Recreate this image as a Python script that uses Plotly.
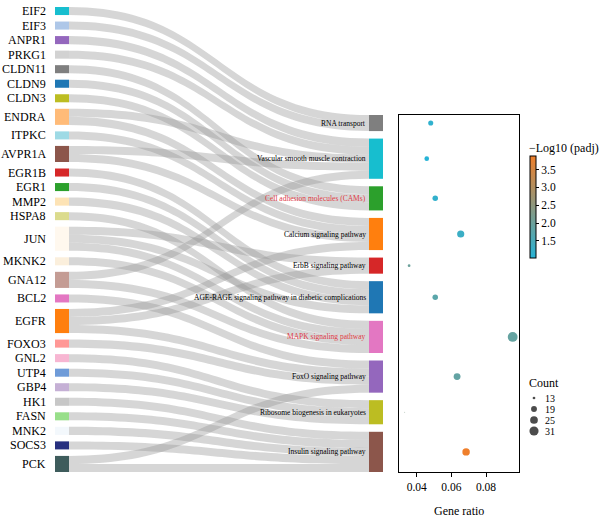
import plotly.graph_objects as go

# ---------------- data ----------------
genes = ["EIF2", "EIF3", "ANPR1", "PRKG1", "CLDN11", "CLDN9", "CLDN3", "ENDRA",
         "ITPKC", "AVPR1A", "EGR1B", "EGR1", "MMP2", "HSPA8", "JUN", "MKNK2",
         "GNA12", "BCL2", "EGFR", "FOXO3", "GNL2", "UTP4", "GBP4", "HK1",
         "FASN", "MNK2", "SOCS3", "PCK"]
gene_colors = ["#17becf", "#aec7e8", "#9467bd", "#d2d2d2", "#7f7f7f", "#1f77b4",
               "#bcbd22", "#ffbb78", "#9edae5", "#8c564b", "#d62728", "#2ca02c",
               "#fde3b5", "#dbdb8d", "#fff8ee", "#fbefdc", "#c49c94", "#e377c2",
               "#ff7f0e", "#ff9896", "#f7b6d2", "#6f9bd8", "#c5b0d5", "#c7c7c7",
               "#98df8a", "#f3f8fc", "#27307f", "#3e5c5c"]

pathways = ["RNA transport",
            "Vascular smooth muscle contraction",
            "Cell adhesion molecules (CAMs)",
            "Calcium signaling pathway",
            "ErbB signaling pathway",
            "AGE-RAGE signaling pathway in diabetic complications",
            "MAPK signaling pathway",
            "FoxO signaling pathway",
            "Ribosome biogenesis in eukaryotes",
            "Insulin signaling pathway"]
pathway_colors = ["#7f7f7f", "#17becf", "#2ca02c", "#ff7f0e", "#d62728",
                  "#1f77b4", "#e377c2", "#9467bd", "#bcbd22", "#8c564b"]
highlighted_pathways = ["Cell adhesion molecules (CAMs)", "MAPK signaling pathway"]

link_source = ["EIF2", "EIF3", "ANPR1", "PRKG1", "CLDN11", "CLDN9", "CLDN3",
               "ENDRA", "ENDRA", "ITPKC", "AVPR1A", "AVPR1A", "EGR1B", "EGR1",
               "MMP2", "HSPA8", "JUN", "JUN", "JUN", "MKNK2", "GNA12", "GNA12",
               "BCL2", "EGFR", "EGFR", "EGFR", "FOXO3", "GNL2", "UTP4", "GBP4",
               "HK1", "FASN", "MNK2", "SOCS3", "PCK", "PCK"]
link_target = ["RNA transport", "RNA transport",
               "Vascular smooth muscle contraction", "Vascular smooth muscle contraction",
               "Cell adhesion molecules (CAMs)", "Cell adhesion molecules (CAMs)",
               "Cell adhesion molecules (CAMs)",
               "Vascular smooth muscle contraction", "Calcium signaling pathway",
               "Calcium signaling pathway",
               "Vascular smooth muscle contraction", "Calcium signaling pathway",
               "AGE-RAGE signaling pathway in diabetic complications",
               "AGE-RAGE signaling pathway in diabetic complications",
               "AGE-RAGE signaling pathway in diabetic complications",
               "MAPK signaling pathway",
               "ErbB signaling pathway",
               "AGE-RAGE signaling pathway in diabetic complications",
               "MAPK signaling pathway", "MAPK signaling pathway",
               "Vascular smooth muscle contraction", "MAPK signaling pathway",
               "FoxO signaling pathway",
               "Calcium signaling pathway", "ErbB signaling pathway",
               "FoxO signaling pathway", "FoxO signaling pathway",
               "Ribosome biogenesis in eukaryotes", "Ribosome biogenesis in eukaryotes",
               "Ribosome biogenesis in eukaryotes",
               "Insulin signaling pathway", "Insulin signaling pathway",
               "Insulin signaling pathway", "Insulin signaling pathway",
               "FoxO signaling pathway", "Insulin signaling pathway"]
link_value = [1, 1, 1, 1, 1, 1, 1, 1, 1, 1, 1, 1, 1, 1, 1, 1, 1, 1,
              1, 1, 1, 1, 1, 1, 1, 1, 1, 1, 1, 1, 1, 1, 1, 1, 1, 1]

# bubble plot (one value per pathway, same order as `pathways`)
gene_ratio = [0.0481, 0.0458, 0.0507, 0.0654, 0.0356, 0.0507, 0.0954, 0.0633, 0.0331, 0.0685]
gene_count = [17, 16, 18, 23, 13, 18, 34, 22, 12, 24]
neg_log10_padj = [1.15, 1.02, 1.18, 1.30, 2.00, 1.75, 1.90, 1.88, 2.30, 3.88]

size_legend_counts = [13, 19, 25, 31]
x_ticks = [0.04, 0.06, 0.08]
cbar_ticks = [1.5, 2.0, 2.5, 3.0, 3.5]

# ---------------- layout constants (pixels) ----------------
FIG_W, FIG_H = 600, 517
FONT = "Liberation Serif, Times New Roman, serif"
SK_X0, SK_X1, SK_Y0, SK_Y1 = 55, 383, 7, 472
NODE_W = 14
PAD = 6.5
GAP_R = 7.5
BOX_X0, BOX_X1, BOX_Y0, BOX_Y1 = 399, 519, 115, 472
LOW_C, HIGH_C = "#27b3d6", "#ef7f2b"
LINK_C = "rgba(150,150,150,0.39)"

# ---------------- sankey node geometry from the data ----------------
sk_h = SK_Y1 - SK_Y0
sk_w = SK_X1 - SK_X0
total = sum(link_value)
gene_val = [sum(v for s, v in zip(link_source, link_value) if s == g) for g in genes]
path_val = [sum(v for t, v in zip(link_target, link_value) if t == p) for p in pathways]
ky = (sk_h - (len(genes) - 1) * PAD) / total

gene_centers = []
acc = 0.0
for i, v in enumerate(gene_val):
    top = acc + i * PAD
    gene_centers.append(top + v * ky / 2)
    acc += v * ky

path_centers = []
start = sk_h - (total * ky + (len(pathways) - 1) * GAP_R)
acc = 0.0
for j, v in enumerate(path_val):
    top = start + acc + j * GAP_R
    path_centers.append(top + v * ky / 2)
    acc += v * ky

node_labels = genes + pathways
node_index = {n: k for k, n in enumerate(node_labels)}
x_left = (NODE_W / 2) / sk_w
x_right = 1 - x_left
node_x = [x_left] * len(genes) + [x_right] * len(pathways)
node_y = [c / sk_h for c in gene_centers] + [c / sk_h for c in path_centers]

fig = go.Figure()

fig.add_trace(go.Sankey(
    domain=dict(x=[SK_X0 / FIG_W, SK_X1 / FIG_W],
                y=[1 - SK_Y1 / FIG_H, 1 - SK_Y0 / FIG_H]),
    arrangement="snap",
    node=dict(label=node_labels, color=gene_colors + pathway_colors,
              x=node_x, y=node_y, pad=PAD, thickness=NODE_W,
              line=dict(width=0)),
    link=dict(source=[node_index[s] for s in link_source],
              target=[node_index[t] for t in link_target],
              value=link_value, color=LINK_C),
    textfont=dict(color="rgba(0,0,0,0)", size=1, family=FONT),
))

# bubble sizes (area scale)
cmin, cmax = min(gene_count), max(gene_count)


def diam(c):
    r = max(0.0, (c - cmin) / (cmax - cmin))
    return 0.8 + 9.0 * r ** 0.5


fig.add_trace(go.Scatter(
    x=gene_ratio, y=path_centers, mode="markers",
    text=pathways,
    marker=dict(size=[diam(c) for c in gene_count], color=neg_log10_padj,
                colorscale=[[0, LOW_C], [1, HIGH_C]], showscale=True,
                line=dict(width=0), opacity=1,
                colorbar=dict(x=530 / FIG_W, xanchor="left", xpad=0,
                              y=1 - (156 + 258) / 2 / FIG_H, yanchor="middle",
                              len=102 / FIG_H, lenmode="fraction", ypad=0,
                              thickness=6, outlinewidth=1, outlinecolor="black",
                              ticks="outside", ticklen=3, tickcolor="black",
                              tickvals=cbar_ticks,
                              ticktext=[f"{t:.1f}" for t in cbar_ticks],
                              tickfont=dict(size=11.5, family=FONT, color="black"))),
    xaxis="x", yaxis="y", showlegend=False, hoverinfo="text+x",
))

# size legend on an invisible pixel-scaled overlay
leg_y = [398 + i * 11 for i in range(len(size_legend_counts))]
fig.add_trace(go.Scatter(
    x=[534] * len(size_legend_counts), y=leg_y, mode="markers",
    marker=dict(size=[diam(c) for c in size_legend_counts], color="black",
                line=dict(width=0)),
    xaxis="x2", yaxis="y2", showlegend=False, hoverinfo="skip",
))

annotations = []
for g, c in zip(genes, gene_centers):
    annotations.append(dict(text=g, x=48 / FIG_W, y=1 - (SK_Y0 + c) / FIG_H,
                            xref="paper", yref="paper", xanchor="right",
                            yanchor="middle", showarrow=False,
                            font=dict(size=12, family=FONT, color="black")))
for p, c in zip(pathways, path_centers):
    col = "#e03a45" if p in highlighted_pathways else "black"
    annotations.append(dict(text=p, x=(SK_X1 - NODE_W - 1) / FIG_W,
                            y=1 - (SK_Y0 + c) / FIG_H,
                            xref="paper", yref="paper", xanchor="right",
                            yanchor="middle", showarrow=False,
                            font=dict(size=7.5, family=FONT, color=col)))
annotations.append(dict(text="\u2212Log10 (padj)", x=527 / FIG_W, y=1 - 148 / FIG_H,
                        xref="paper", yref="paper", xanchor="left", yanchor="middle",
                        showarrow=False, font=dict(size=12, family=FONT, color="black")))
annotations.append(dict(text="Count", x=527 / FIG_W, y=1 - 383 / FIG_H,
                        xref="paper", yref="paper", xanchor="left", yanchor="middle",
                        showarrow=False, font=dict(size=12, family=FONT, color="black")))
for c, yy in zip(size_legend_counts, leg_y):
    annotations.append(dict(text=str(c), x=544 / FIG_W, y=1 - yy / FIG_H,
                            xref="paper", yref="paper", xanchor="left", yanchor="middle",
                            showarrow=False, borderpad=0,
                            font=dict(size=10, family=FONT, color="black")))
annotations.append(dict(text="Gene ratio", x=(BOX_X0 + BOX_X1) / 2 / FIG_W,
                        y=1 - 511 / FIG_H, xref="paper", yref="paper",
                        xanchor="center", yanchor="middle", showarrow=False,
                        font=dict(size=12, family=FONT, color="black")))

px_per_unit = 1732.5
x_range = [0.04 - (416.7 - BOX_X0) / px_per_unit, 0.04 + (BOX_X1 - 416.7) / px_per_unit]

fig.update_layout(
    width=FIG_W, height=FIG_H,
    margin=dict(l=0, r=0, t=0, b=0),
    paper_bgcolor="white", plot_bgcolor="rgba(0,0,0,0)",
    font=dict(family=FONT, color="black"),
    showlegend=False,
    annotations=annotations,
    xaxis=dict(domain=[BOX_X0 / FIG_W, BOX_X1 / FIG_W], range=x_range, anchor="y",
               showline=True, mirror=True, linecolor="black", linewidth=1.2,
               ticks="outside", ticklen=4, tickcolor="black",
               tickvals=x_ticks, ticktext=[f"{t:.2f}" for t in x_ticks],
               tickfont=dict(size=11.5, family=FONT, color="black"),
               showgrid=False, zeroline=False, fixedrange=True),
    yaxis=dict(domain=[1 - BOX_Y1 / FIG_H, 1 - BOX_Y0 / FIG_H],
               range=[sk_h, BOX_Y0 - SK_Y0], anchor="x",
               showline=True, mirror=True, linecolor="black", linewidth=1.2,
               showticklabels=False, ticks="", showgrid=False, zeroline=False,
               fixedrange=True),
    xaxis2=dict(domain=[0, 1], range=[0, FIG_W], anchor="y2", visible=False,
                fixedrange=True),
    yaxis2=dict(domain=[0, 1], range=[FIG_H, 0], anchor="x2", visible=False,
                fixedrange=True),
)

fig.write_html("out.html", config={"displayModeBar": False},
               post_script="document.body.style.margin='0';document.body.style.overflow='hidden';")
